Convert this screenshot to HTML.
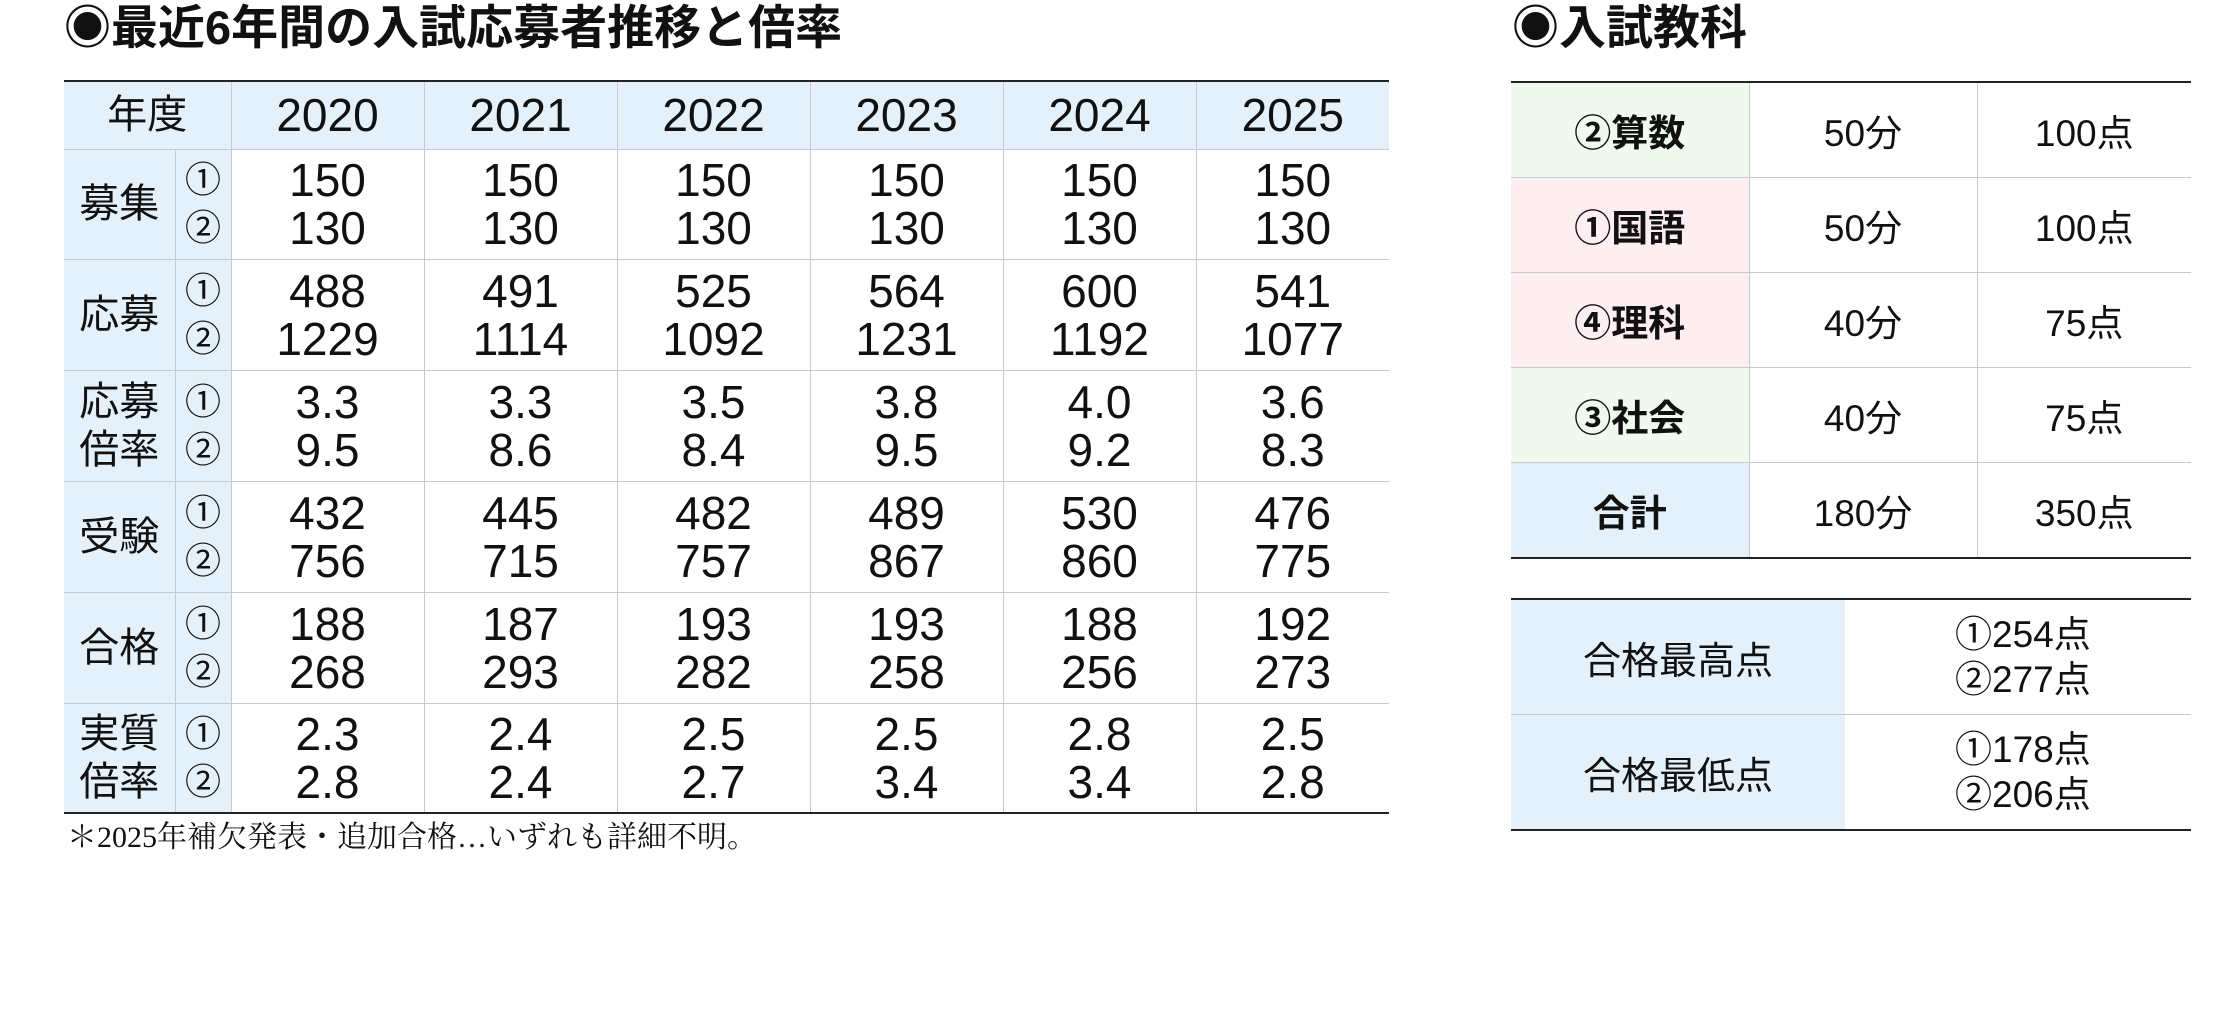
<!DOCTYPE html>
<html><head><meta charset="utf-8"><style>
body{margin:0;width:2220px;height:1030px;background:#fff;position:relative;overflow:hidden;font-family:"Liberation Sans","Noto Sans CJK JP",sans-serif;color:#111}
.t{position:absolute;font-weight:bold;font-size:47px;line-height:56px;white-space:nowrap}
table{position:absolute;border-collapse:collapse;table-layout:fixed}
td{padding:0;text-align:center;vertical-align:middle;border:1.5px solid #c5c9d1}
.L{left:64px;top:80px;border-top:2.5px solid #222;border-bottom:2.5px solid #222}
.L td{font-size:46px;line-height:48px}
.L tr td:first-child{border-left:none}
.L tr td:last-child{border-right:none}
.L tr:first-child td{border-top:none}
.L tr:last-child td{border-bottom:none}
.b{background:#e4f1fa}
.lab{font-size:40px!important;line-height:48px!important}
.sub{font-size:36px!important;line-height:48px!important}
.R{left:1511px;top:81px;border-top:2.5px solid #222;border-bottom:2.5px solid #222}
.R td{font-size:37px;height:94px;border-left:none;border-right:none}
.R td+td{border-left:1.5px solid #c5c9d1}
.R tr:first-child td{border-top:none}.R tr:last-child td{border-bottom:none}
.R td:first-child{font-weight:bold}
.g{background:#eff9ee}.p{background:#fdeef1}
.R2{left:1511px;top:598px;border-top:2.5px solid #222;border-bottom:2.5px solid #222}
.R2 td{height:114px;border-left:none;border-right:none;font-size:38px}
.R2 tr:first-child td{border-top:none}.R2 tr:last-child td{border-bottom:none}
.R2 td.v{text-align:left;padding-left:110px;font-size:37px;line-height:45px}
.fn{position:absolute;left:67px;top:820px;font-family:"Liberation Serif","Noto Serif CJK SC",serif;font-size:30px;line-height:36px;white-space:nowrap}
</style></head><body>
<div class="t" style="left:64px;top:0px">◉最近6年間の入試応募者推移と倍率</div>
<div class="t" style="left:1512px;top:0px">◉入試教科</div>

<table class="L">
<colgroup><col style="width:111px"><col style="width:56px"><col style="width:193px"><col style="width:193px"><col style="width:193px"><col style="width:193px"><col style="width:193px"><col style="width:193px"></colgroup>
<tr style="height:68px"><td class="b lab" colspan="2">年度</td><td class="b">2020</td><td class="b">2021</td><td class="b">2022</td><td class="b">2023</td><td class="b">2024</td><td class="b">2025</td></tr>
<tr style="height:110px"><td class="b lab">募集</td><td class="b sub">①<br>②</td><td>150<br>130</td><td>150<br>130</td><td>150<br>130</td><td>150<br>130</td><td>150<br>130</td><td>150<br>130</td></tr>
<tr style="height:111px"><td class="b lab">応募</td><td class="b sub">①<br>②</td><td>488<br>1229</td><td>491<br>1114</td><td>525<br>1092</td><td>564<br>1231</td><td>600<br>1192</td><td>541<br>1077</td></tr>
<tr style="height:111px"><td class="b lab">応募<br>倍率</td><td class="b sub">①<br>②</td><td>3.3<br>9.5</td><td>3.3<br>8.6</td><td>3.5<br>8.4</td><td>3.8<br>9.5</td><td>4.0<br>9.2</td><td>3.6<br>8.3</td></tr>
<tr style="height:111px"><td class="b lab">受験</td><td class="b sub">①<br>②</td><td>432<br>756</td><td>445<br>715</td><td>482<br>757</td><td>489<br>867</td><td>530<br>860</td><td>476<br>775</td></tr>
<tr style="height:111px"><td class="b lab">合格</td><td class="b sub">①<br>②</td><td>188<br>268</td><td>187<br>293</td><td>193<br>282</td><td>193<br>258</td><td>188<br>256</td><td>192<br>273</td></tr>
<tr style="height:110px"><td class="b lab">実質<br>倍率</td><td class="b sub">①<br>②</td><td>2.3<br>2.8</td><td>2.4<br>2.4</td><td>2.5<br>2.7</td><td>2.5<br>3.4</td><td>2.8<br>3.4</td><td>2.5<br>2.8</td></tr>
</table>
<div class="fn">＊2025年補欠発表・追加合格…いずれも詳細不明。</div>

<table class="R">
<colgroup><col style="width:238px"><col style="width:228px"><col style="width:214px"></colgroup>
<tr><td class="g">②算数</td><td>50分</td><td>100点</td></tr>
<tr><td class="p">①国語</td><td>50分</td><td>100点</td></tr>
<tr><td class="p">④理科</td><td>40分</td><td>75点</td></tr>
<tr><td class="g">③社会</td><td>40分</td><td>75点</td></tr>
<tr><td class="b">合計</td><td>180分</td><td>350点</td></tr>
</table>

<table class="R2">
<colgroup><col style="width:334px"><col style="width:346px"></colgroup>
<tr><td class="b">合格最高点</td><td class="v">①254点<br>②277点</td></tr>
<tr><td class="b">合格最低点</td><td class="v">①178点<br>②206点</td></tr>
</table>
</body></html>
